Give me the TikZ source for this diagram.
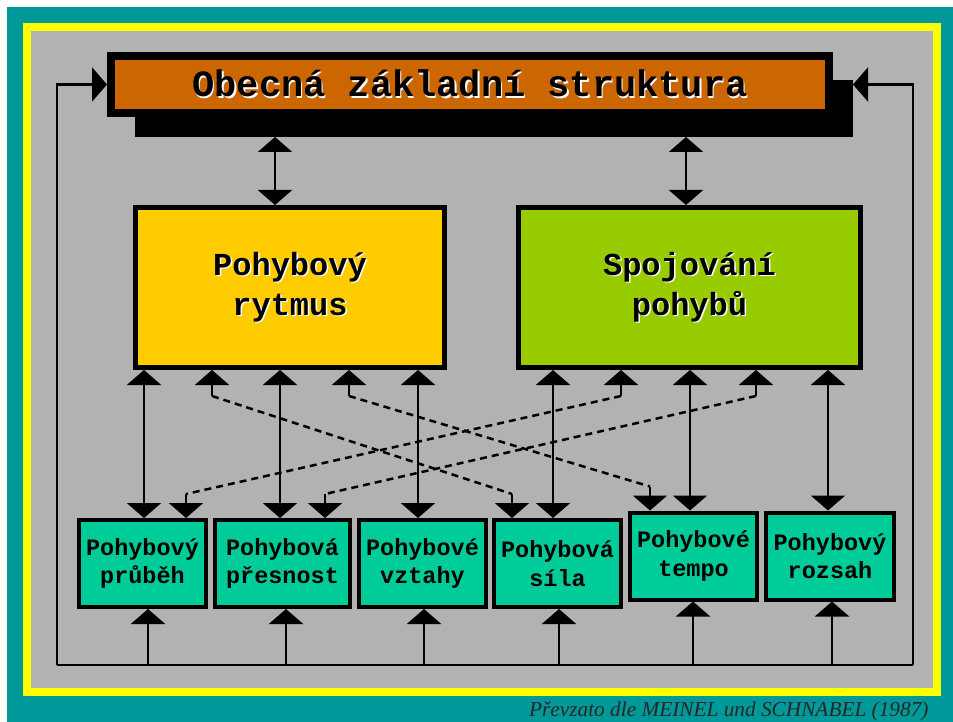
\documentclass[tikz,border=0pt]{standalone}
\usepackage{fontspec}
\setmainfont{Liberation Serif}
\setmonofont{Liberation Mono}
\usetikzlibrary{arrows.meta, shadows}

\definecolor{frameteal}{RGB}{0,153,153}
\definecolor{frameyellow}{RGB}{255,255,0}
\definecolor{panelgray}{RGB}{178,178,178}
\definecolor{titleorange}{RGB}{204,102,0}
\definecolor{rytmusyellow}{RGB}{255,204,0}
\definecolor{spojgreen}{RGB}{153,204,0}
\definecolor{smallteal}{RGB}{0,204,153}

\newcommand{\embossed}[1]{\makebox[0pt][l]{\hspace{1.5pt}\raisebox{-1.5pt}{\color{white}#1}}#1}

\begin{document}
\begin{tikzpicture}
        [x=1pt, y=-1pt,
        >={Triangle[width=34pt,length=15pt]},
        titlebox/.style={draw=black, line width=8pt, fill=titleorange, inner sep=0pt,
          minimum width=718pt, minimum height=57pt, text height=31pt, text depth=6pt,
          font=\ttfamily\bfseries\fontsize{37}{44}\selectfont,
          drop shadow={shadow xshift=24pt, shadow yshift=-24pt, fill=black, opacity=1}},
        mainbox/.style={draw=black, line width=5pt, inner sep=0pt, minimum height=160pt,
          align=center, font=\ttfamily\bfseries\fontsize{32}{40}\selectfont},
        smallbox/.style={draw=black, line width=4pt, fill=smallteal, inner sep=0pt,
          minimum width=127pt, minimum height=87pt, align=center,
          font=\ttfamily\bfseries\fontsize{23.5}{28.5}\selectfont},
        arr/.style={<->, line width=2.5pt},
        tipline/.style={->, line width=2.5pt},
        dashedline/.style={line width=2.5pt, dash pattern=on 7pt off 5pt},
        loopline/.style={line width=2.5pt}]
        \useasboundingbox (0,0) rectangle (953,722);
        % frame
        \fill[white] (0,0) rectangle (953,722);
        \fill[frameteal] (7,7) rectangle (953,722);
        \fill[frameyellow] (23,23) rectangle (941,696);
        \fill[panelgray] (31,31) rectangle (933,688);

        \node (obecna) at (470,84.5) [titlebox] {\embossed{Obecná základní struktura}};
        \node (rytmus) at (290,287.5) [mainbox, fill=rytmusyellow, minimum width=309pt]
           {\embossed{Pohybový}\\\embossed{rytmus}};
        \node (spojovani) at (689.5,287.5) [mainbox, fill=spojgreen, minimum width=342pt]
           {\embossed{Spojování}\\\embossed{pohybů}};

        \node (prubeh) at (142.5,563.5) [smallbox] {Pohybový\\průběh};
        \node (presnost) at (282.5,563.5) [smallbox, minimum width=135pt] {Pohybová\\přesnost};
        \node (vztahy) at (422.5,563.5) [smallbox] {Pohybové\\vztahy};
        \node (sila) at (557.5,563.5) [smallbox] {Pohybová\\síla};
        \node (tempo) at (693.5,556) [smallbox] {Pohybové\\tempo};
        \node (rozsah) at (830,556) [smallbox, minimum width=128pt] {Pohybový\\rozsah};

        % top links
        \path (obecna.south) ++(0,20) coordinate (obecnashadow);
        \path (obecna.east) ++(20,0) coordinate (obecnaright);
        \draw[arr] (obecnashadow -| 275,0) -- (rytmus.north -| 275,0);
        \draw[arr] (obecnashadow -| 686,0) -- (spojovani.north -| 686,0);

        % solid links
        \foreach \from/\to/\x in {rytmus/prubeh/144, rytmus/presnost/280, rytmus/vztahy/418,
          spojovani/sila/553, spojovani/tempo/690, spojovani/rozsah/828}
           \draw[arr] (\from.south -| \x,0) -- (\to.north -| \x,0);

        % dashed links
        \foreach \from/\xa/\to/\xb in {rytmus/212/sila/512, rytmus/349/tempo/650,
          spojovani/621/prubeh/186, spojovani/756/presnost/325} {
           \path (\from.south -| \xa,0) ++(0,26) coordinate (upper);
           \path (\to.north -| \xb,0) ++(0,-24) coordinate (lower);
           \draw[tipline] (upper) -- (\from.south -| \xa,0);
           \draw[tipline] (lower) -- (\to.north -| \xb,0);
           \draw[dashedline] (upper) -- (lower);
        }

        % feedback loop
        \coordinate (loopleft) at (57,665);
        \coordinate (loopright) at (913,665);
        \draw[loopline] (loopleft) -- (loopright);
        \draw[tipline] (loopleft) |- (obecna.west);
        \draw[tipline] (loopright) |- (obecnaright);
        \foreach \to/\x in {prubeh/148, presnost/286, vztahy/424, sila/559, tempo/693, rozsah/832}
           \draw[tipline] (loopleft -| \x,0) -- (\to.south -| \x,0);

        \node (quelle) at (932,716) [anchor=base east, text=black!85,
          font=\itshape\fontsize{21.3}{24}\selectfont] {Převzato dle MEINEL und SCHNABEL (1987)};
\end{tikzpicture}
\end{document}
